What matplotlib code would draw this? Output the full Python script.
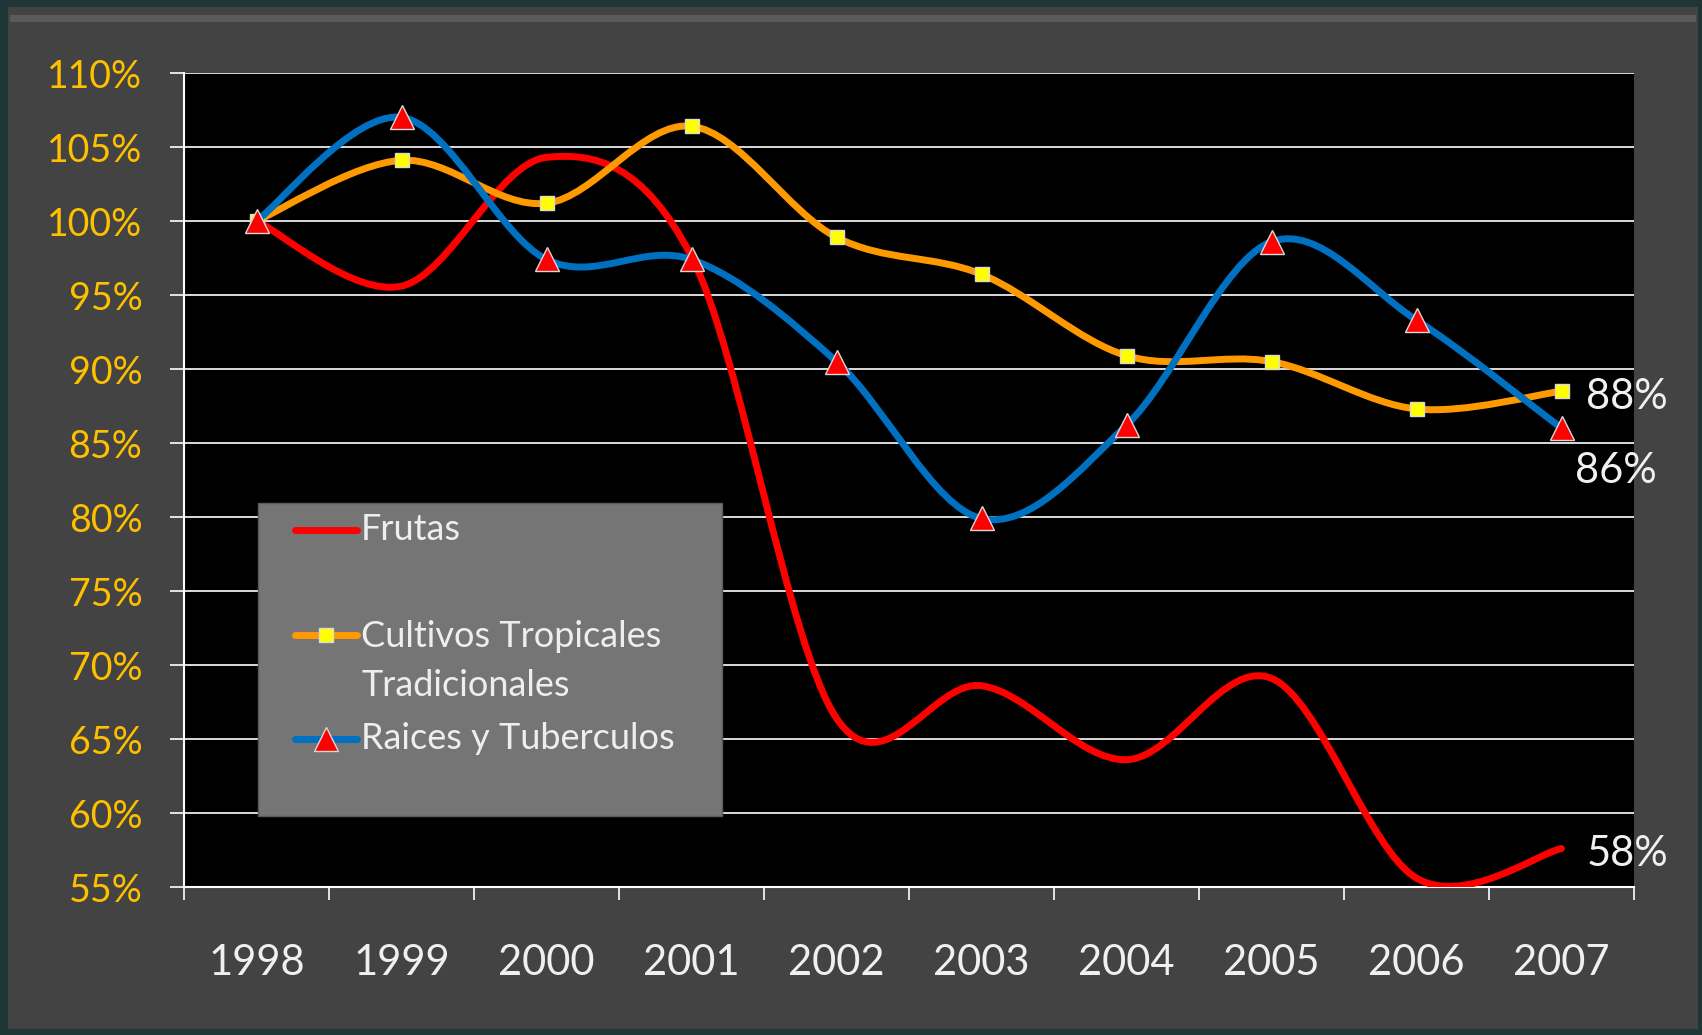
import matplotlib
matplotlib.use('Agg')
import matplotlib.pyplot as plt
from matplotlib.path import Path
from matplotlib.patches import PathPatch, Rectangle
from matplotlib.lines import Line2D
import numpy as np

years = ['1998', '1999', '2000', '2001', '2002', '2003', '2004', '2005', '2006', '2007']
frutas = [100.0, 95.6, 104.3, 97.6, 66.4, 68.6, 63.6, 69.1, 55.6, 57.6]
cultivos = [100.0, 104.1, 101.2, 106.4, 98.9, 96.4, 90.9, 90.5, 87.3, 88.5]
raices = [100.0, 107.0, 97.4, 97.4, 90.5, 79.9, 86.2, 98.6, 93.3, 86.0]
end_labels = ['58%', '88%', '86%']
yticks = list(range(55, 111, 5))

plt.rcParams['font.family'] = ['Lato', 'DejaVu Sans']

W, H = 1702, 1035
fig = plt.figure(figsize=(W / 100, H / 100), dpi=100, facecolor='#1f3636')
# panel behind the chart
fig.add_artist(Rectangle((8 / W, 6 / H), 1690 / W, 1022 / H, transform=fig.transFigure,
                         facecolor='#434343', edgecolor='none', zorder=-10))
fig.add_artist(Rectangle((10 / W, 1013 / H), 1686 / W, 7 / H, transform=fig.transFigure,
                         facecolor='#5a5a5a', edgecolor='none', zorder=-9))

ax = fig.add_axes([184 / W, 1 - 887 / H, 1450 / W, 814 / H])
ax.set_facecolor('black')


def smooth_path(xs, ys):
    # Excel style smoothed line: cubic bezier through every point
    pts = np.column_stack([xs, ys]).astype(float)
    n = len(pts)
    verts = [pts[0]]
    codes = [Path.MOVETO]
    for i in range(n - 1):
        p0 = pts[max(i - 1, 0)]
        p1 = pts[i]
        p2 = pts[i + 1]
        p3 = pts[min(i + 2, n - 1)]
        verts += [p1 + (p2 - p0) / 6, p2 - (p3 - p1) / 6, p2]
        codes += [Path.CURVE4] * 3
    return Path(verts, codes)


x = np.arange(len(years))
series = [
    ('Frutas', frutas, '#ff0000', None, None, 0),
    ('Cultivos Tropicales\nTradicionales', cultivos, '#ff9900', 's', '#ffff00', 10),
    ('Raices y Tuberculos', raices, '#0070c0', '^', '#ff0000', 17),
]
for i, (name, vals, col, mk, mcol, ms) in enumerate(series):
    ax.add_patch(PathPatch(smooth_path(x, vals), fill=False, edgecolor=col, lw=5,
                           capstyle='round', joinstyle='round', zorder=3 + i))
    if mk:
        ax.plot(x, vals, ls='none', marker=mk, ms=ms, mfc=mcol, mec='#d9d9d9', mew=1,
                zorder=3.5 + i)

ax.set_xlim(-0.5, len(years) - 0.5)
ax.set_ylim(55, 110)

ax.set_yticks(yticks)
ax.set_yticklabels([f'{v}%' for v in yticks], color='#ffc000', fontsize=27)
ax.tick_params(axis='y', direction='out', length=10, width=1.2, color='white', pad=20)
ax.grid(axis='y', color='white', lw=1.2)
ax.set_axisbelow(True)

ax.set_xticks(np.arange(-0.5, len(years), 1))
ax.set_xticklabels([])
ax.set_xticks(x, minor=True)
ax.set_xticklabels(years, minor=True, color='#f0f0f0', fontsize=30)
ax.tick_params(axis='x', which='major', direction='out', length=9.4, width=1.2, color='white')
ax.tick_params(axis='x', which='minor', length=0, pad=41)

for s in ['top', 'right']:
    ax.spines[s].set_visible(False)
for s in ['left', 'bottom']:
    ax.spines[s].set_color('white')
    ax.spines[s].set_linewidth(1.5)

# data labels at the last point
lab_kw = dict(textcoords='offset points', va='center', color='#f0f0f0', fontsize=30,
              annotation_clip=False)
ax.annotate(end_labels[0], (x[-1], frutas[-1]), xytext=(18, -4), **lab_kw)
ax.annotate(end_labels[1], (x[-1], cultivos[-1]), xytext=(18, -4), **lab_kw)
ax.annotate(end_labels[2], (x[-1], raices[-1]), xytext=(10, -31), **lab_kw)

# legend box drawn like the Excel one
ax.add_patch(Rectangle((258 / 1450 - 184 / 1450, 0.0872), 464 / 1450, 0.3842,
                       transform=ax.transAxes, facecolor='#757575', edgecolor='#5a5a5a',
                       lw=1, zorder=10))
leg_y = [0.4386, 0.3096, 0.1822]
hx0, hx1, tx = (295 - 184) / 1450, (357 - 184) / 1450, (361 - 184) / 1450
for (name, vals, col, mk, mcol, ms), yy in zip(series, leg_y):
    ax.add_line(Line2D([hx0, hx1], [yy, yy], transform=ax.transAxes, color=col, lw=5,
                       solid_capstyle='round', zorder=11))
    if mk:
        ax.add_line(Line2D([(hx0 + hx1) / 2], [yy], transform=ax.transAxes, ls='none',
                           marker=mk, ms=ms, mfc=mcol, mec='#d9d9d9', mew=1, zorder=12))
    multi = '\n' in name
    ax.text(tx, yy + 0.019 if multi else yy, name, transform=ax.transAxes,
            va='top' if multi else 'center', color='#eeeeee', fontsize=26, zorder=13,
            linespacing=1.6)

fig.savefig('out.png', dpi=100, facecolor=fig.get_facecolor())
